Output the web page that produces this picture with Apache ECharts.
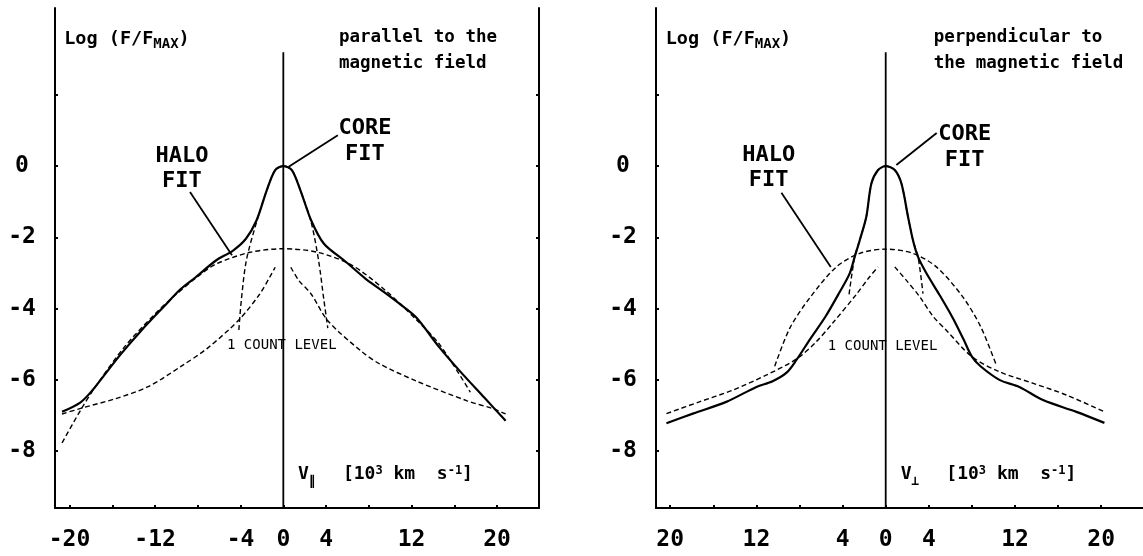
<!DOCTYPE html>
<html>
<head>
<meta charset="utf-8">
<script src="https://cdn.jsdelivr.net/npm/echarts@6/dist/echarts.min.js"></script>
<style>
html, body { margin: 0; padding: 0; background: #fff; }
#chart { width: 1143px; height: 556px; }
</style>
</head>
<body>
<div id="chart"></div>
<script>
// Axis ticks: velocity in 10^3 km/s, distribution as log10(F/Fmax)
const velocityTicks = [-20, -16, -12, -8, -4, 0, 4, 8, 12, 16, 20];
const velocityLabels = [-20, -12, -4, 0, 4, 12, 20];
const logTicks = [2, 0, -2, -4, -6, -8];
const logLabels = [0, -2, -4, -6, -8];

// Cut parallel to the magnetic field: [v, log F/Fmax]
const parMeasured = [
  [-20.7, -6.90], [-19.0, -6.64], [-17.9, -6.31], [-16.8, -5.89], [-15.2, -5.28],
  [-13.3, -4.62], [-11.1, -3.92], [-9.6, -3.45], [-8.2, -3.12], [-6.3, -2.65],
  [-4.7, -2.37], [-3.5, -2.04], [-2.5, -1.52], [-1.55, -0.68], [-0.76, -0.11],
  [0, 0], [0.8, -0.11], [1.6, -0.68], [2.6, -1.52], [3.8, -2.18], [5.7, -2.65],
  [7.65, -3.15], [9.2, -3.49], [10.8, -3.85], [12.4, -4.24], [14.6, -5.09],
  [16.5, -5.75], [18.8, -6.5], [20.8, -7.15]
];
const parCoreFit = [
  [-4.16, -4.6], [-3.93, -3.77], [-3.46, -2.65], [-2.5, -1.57], [-1.55, -0.68],
  [-0.76, -0.11], [0, 0], [0.8, -0.11], [1.6, -0.68], [2.6, -1.57], [3.3, -2.65],
  [3.8, -3.77], [4.16, -4.55]
];
const parHaloFit = [
  [-20.7, -7.77], [-19.0, -6.87], [-17.7, -6.25], [-14.9, -5.09], [-12.0, -4.15],
  [-10.1, -3.62], [-8.0, -3.1], [-6.3, -2.75], [-3.1, -2.42], [0, -2.32],
  [3.2, -2.42], [6.4, -2.78], [9.55, -3.49], [12.4, -4.3], [14.6, -5.0], [17.5, -6.35]
];
const parCountLeft = [
  [-20.7, -6.96], [-18.7, -6.78], [-15.8, -6.54], [-12.7, -6.2], [-9.5, -5.61],
  [-7.0, -5.09], [-4.1, -4.3], [-2.2, -3.59], [-1.24, -3.1], [-0.76, -2.84]
];
const parCountRight = [
  [0.7, -2.84], [1.45, -3.21], [2.6, -3.59], [4.16, -4.34], [7.3, -5.2],
  [9.0, -5.55], [12.4, -6.03], [17.2, -6.59], [19.7, -6.82], [20.8, -6.96]
];
const parHaloPointer = [[-8.73, -0.73], [-4.8, -2.5]];
const parCorePointer = [[5.1, 0.87], [0.5, -0.02]];

// Cut perpendicular to the magnetic field
const perpMeasured = [
  [-20.35, -7.22], [-17.9, -6.95], [-14.8, -6.62], [-12.0, -6.2], [-10.5, -6.04],
  [-9.2, -5.8], [-8.3, -5.45], [-7.0, -4.85], [-5.6, -4.23], [-4.3, -3.55],
  [-3.34, -3.01], [-2.88, -2.55], [-2.41, -2.08], [-1.8, -1.42], [-1.33, -0.49],
  [-0.71, -0.11], [0, 0], [0.84, -0.11], [1.46, -0.49], [2.07, -1.42], [2.53, -2.08],
  [3.0, -2.55], [3.78, -3.01], [5.0, -3.62], [6.2, -4.25], [7.2, -4.85], [8.0, -5.35],
  [8.8, -5.62], [10.6, -6.01], [12.4, -6.2], [14.6, -6.57], [17.7, -6.9], [20.3, -7.21]
];
const perpCoreFit = [
  [-3.4, -3.6], [-2.88, -2.55], [-2.41, -2.08], [-1.8, -1.42], [-1.33, -0.49],
  [-0.71, -0.11], [0, 0], [0.84, -0.11], [1.46, -0.49], [2.07, -1.42], [2.53, -2.08],
  [3.0, -2.55], [3.46, -3.58]
];
const perpHaloFit = [
  [-10.3, -5.62], [-8.9, -4.55], [-7.05, -3.7], [-4.58, -2.83], [-2.41, -2.45],
  [0, -2.33], [2.53, -2.45], [4.7, -2.83], [7.1, -3.65], [8.8, -4.5], [10.3, -5.62]
];
const perpCountLeft = [
  [-20.35, -6.95], [-17.3, -6.62], [-14.2, -6.29], [-11.1, -5.87], [-8.3, -5.42],
  [-6.5, -4.95], [-4.9, -4.4], [-2.72, -3.6], [-1.6, -3.15], [-0.71, -2.83]
];
const perpCountRight = [
  [0.84, -2.83], [1.9, -3.2], [3.16, -3.67], [4.4, -4.22], [5.6, -4.6],
  [8.0, -5.35], [10.6, -5.78], [13.7, -6.1], [16.8, -6.43], [20.3, -6.9]
];
const perpHaloPointer = [[-9.68, -0.75], [-5.1, -2.83]];
const perpCorePointer = [[4.73, 0.93], [0.99, 0.03]];

// v = 0 reference line
const zeroLine = [[0, 3.2], [0, -9.6]];

const FONT = '"DejaVu Sans Mono", monospace';
const INK = '#000';
const X_RANGE = [[-21.36, 23.92], [-21.32, 23.88]];
const Y_RANGE = [-9.6, 4.44];

function xAxis(gi, absLabels) {
  return {
    gridIndex: gi, type: 'value', min: X_RANGE[gi][0], max: X_RANGE[gi][1],
    axisLine: { onZero: false, lineStyle: { color: INK, width: 2 } },
    splitLine: { show: false },
    axisTick: { customValues: velocityTicks, inside: true, length: 3, lineStyle: { color: INK, width: 2 } },
    axisLabel: {
      customValues: velocityLabels, margin: 21, color: INK,
      fontFamily: FONT, fontSize: 23, fontWeight: 'bold',
      formatter: v => absLabels ? String(Math.abs(v)) : String(v)
    }
  };
}
function yAxis(gi, side, labels) {
  return {
    gridIndex: gi, type: 'value', min: Y_RANGE[0], max: Y_RANGE[1], position: side,
    axisLine: { show: true, onZero: false, lineStyle: { color: INK, width: 2 } },
    splitLine: { show: false },
    axisTick: { customValues: logTicks, inside: true, length: 3, lineStyle: { color: INK, width: 2 } },
    axisLabel: {
      show: labels, customValues: logLabels, margin: 33, align: 'center', color: INK,
      fontFamily: FONT, fontSize: 23, fontWeight: 'bold'
    }
  };
}
function curve(data, xi, yi, kind) {
  const dashed = kind === 'dash';
  return {
    type: 'line', xAxisIndex: xi, yAxisIndex: yi, data,
    symbol: 'none', silent: true, animation: false,
    smooth: kind === 'straight' ? false : 0.3,
    lineStyle: {
      color: INK,
      width: dashed ? 1.4 : (kind === 'straight' ? 1.8 : 2.2),
      type: dashed ? [5, 3] : 'solid'
    },
    z: dashed ? 3 : 4
  };
}

const chart = echarts.init(document.getElementById('chart'), null, { renderer: 'canvas' });
chart.setOption({
  backgroundColor: '#fff',
  animation: false,
  grid: [
    { left: 55, right: 604, top: 8, bottom: 48 },
    { left: 656, right: 0, top: 8, bottom: 48 }
  ],
  xAxis: [xAxis(0, false), xAxis(1, true)],
  yAxis: [yAxis(0, 'left', true), yAxis(0, 'right', false), yAxis(1, 'left', true)],
  series: [
    curve(zeroLine, 0, 0, 'straight'),
    curve(parHaloFit, 0, 0, 'dash'),
    curve(parCoreFit, 0, 0, 'dash'),
    curve(parCountLeft, 0, 0, 'dash'),
    curve(parCountRight, 0, 0, 'dash'),
    curve(parMeasured, 0, 0, 'solid'),
    curve(parHaloPointer, 0, 0, 'straight'),
    curve(parCorePointer, 0, 0, 'straight'),
    curve(zeroLine, 1, 2, 'straight'),
    curve(perpHaloFit, 1, 2, 'dash'),
    curve(perpCoreFit, 1, 2, 'dash'),
    curve(perpCountLeft, 1, 2, 'dash'),
    curve(perpCountRight, 1, 2, 'dash'),
    curve(perpMeasured, 1, 2, 'solid'),
    curve(perpHaloPointer, 1, 2, 'straight'),
    curve(perpCorePointer, 1, 2, 'straight')
  ]
});

// Text annotations, anchored in data coordinates of each panel
const panels = [
  { grid: 0, logAt: [-20.5, 3.57], capAt: [5.21, 3.62], caption: ['parallel to the', 'magnetic field'],
    haloAt: [-9.48, -0.08], coreAt: [7.64, 0.69], countAt: [-5.27, -5.03], velAt: [1.38, -8.65], sub: '\u2225' },
  { grid: 1, logAt: [-20.42, 3.57], capAt: [4.45, 3.62], caption: ['perpendicular to', 'the magnetic field'],
    haloAt: [-10.86, -0.04], coreAt: [7.33, 0.52], countAt: [-5.38, -5.06], velAt: [1.39, -8.65], sub: '\u22A5' }
];

const meas = document.createElement('canvas').getContext('2d');
function fontOf(size, weight) { return (weight || 'bold') + ' ' + size + 'px ' + FONT; }
function textEl(x, y, text, size, weight, align) {
  return {
    type: 'text', x, y, silent: true, z: 10,
    style: { text, font: fontOf(size, weight), fill: INK, align: align || 'left', verticalAlign: 'middle' }
  };
}
// sequence of text pieces laid left to right, each with its own size and vertical shift
function run(x, y, pieces) {
  const out = [];
  let cx = x;
  pieces.forEach(p => {
    const f = fontOf(p.size, p.weight);
    out.push(textEl(cx, y + (p.dy || 0), p.t, p.size, p.weight));
    meas.font = f;
    cx += meas.measureText(p.t).width + (p.gap || 0);
  });
  return out;
}

const graphics = [];
panels.forEach(p => {
  const px = v => chart.convertToPixel({ gridIndex: p.grid }, v);
  const lg = px(p.logAt);
  graphics.push(...run(lg[0], lg[1], [
    { t: 'Log (F/F', size: 18.5 },
    { t: 'MAX', size: 14, dy: 5.5 },
    { t: ')', size: 18.5 }
  ]));
  const cp = px(p.capAt);
  graphics.push(textEl(cp[0], cp[1], p.caption[0], 17.5, 'bold'));
  graphics.push(textEl(cp[0], cp[1] + 26, p.caption[1], 17.5, 'bold'));
  const h = px(p.haloAt);
  graphics.push(textEl(h[0], h[1] - 12.5, 'HALO', 22, 'bold', 'center'));
  graphics.push(textEl(h[0], h[1] + 12.5, 'FIT', 22, 'bold', 'center'));
  const c = px(p.coreAt);
  graphics.push(textEl(c[0], c[1] - 13, 'CORE', 22, 'bold', 'center'));
  graphics.push(textEl(c[0], c[1] + 13, 'FIT', 22, 'bold', 'center'));
  const ct = px(p.countAt);
  graphics.push(textEl(ct[0], ct[1], '1 COUNT LEVEL', 14, 'normal'));
  const vt = px(p.velAt);
  graphics.push(...run(vt[0], vt[1], [
    { t: 'V', size: 18 },
    { t: p.sub, size: 13, dy: 7.5, gap: 27 },
    { t: '[10', size: 18 },
    { t: '3', size: 12, dy: -3 },
    { t: ' km  s', size: 18 },
    { t: '-1', size: 12, dy: -3 },
    { t: ']', size: 18 }
  ]));
});
chart.setOption({ graphic: { elements: graphics } });
</script>
</body>
</html>
